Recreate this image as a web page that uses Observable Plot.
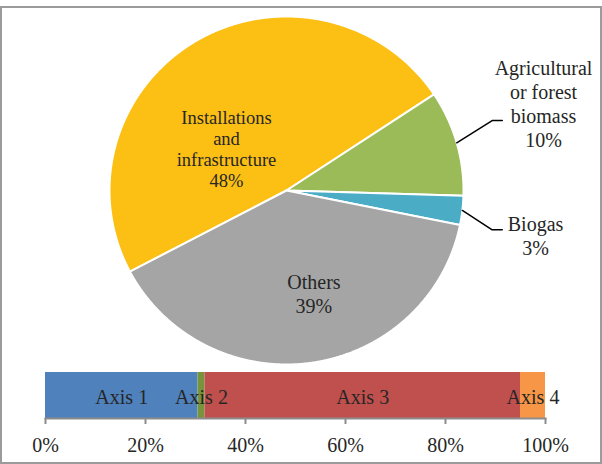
<!DOCTYPE html>
<html><head><meta charset="utf-8">
<script src="https://cdn.jsdelivr.net/npm/d3@7"></script>
<script src="https://cdn.jsdelivr.net/npm/@observablehq/plot@0.6"></script>
<style>
html,body{margin:0;padding:0;background:#fff;}
#chart{position:relative;width:602px;height:464px;overflow:hidden;font-family:"Liberation Serif","Times New Roman",serif;}
#chart svg, #chart svg text{font-family:"Liberation Serif","Times New Roman",serif !important;}
#frame{position:absolute;left:0;top:6px;width:602px;height:458px;border:2px solid #9b9b9b;box-sizing:border-box;}
#pie,#bar{position:absolute;left:0;}
#pie{top:0;}
#bar{top:360px;}
</style>
</head><body>
<div id="chart"><div id="frame"></div><div id="pie"></div><div id="bar"></div></div>
<script>
// ---- data ----
const pieCategories = ["Installations and infrastructure", "Agricultural or forest biomass", "Biogas", "Others"];
const pieValues = [48.4, 9.8, 2.7, 39.1];
const pieLabelNames = ["Installations\nand\ninfrastructure", "Agricultural\nor forest\nbiomass", "Biogas", "Others"];
const piePercents = ["48%", "10%", "3%", "39%"];
const pieColors = ["#FCBF14", "#9BBB59", "#4BACC6", "#A5A5A5"];

const barCategories = ["Axis 1", "Axis 2", "Axis 3", "Axis 4"];
const barValues = [30.5, 1.4, 63.1, 5.0];
const barColors = ["#4F81BD", "#77933C", "#C0504D", "#F79646"];
const xTicks = [0, 20, 40, 60, 80, 100];

// ---- layout (unit pie coordinates) ----
const startDeg = -117.8;
const labelLayout = {
  "Installations and infrastructure": {x: -0.339, y: 0.24, inside: true},
  "Agricultural or forest biomass": {x: 1.452, y: 0.50, elbow: [1.162, 0.402], end: 1.219},
  "Biogas": {x: 1.407, y: -0.257, elbow: [1.162, -0.226], end: 1.219},
  "Others": {x: 0.155, y: -0.591, inside: true}
};

const font = "Liberation Serif";
const txt = "#262626";

// ---- pie geometry ----
const start = startDeg * Math.PI / 180;
const arcs = d3.pie().sort(null).startAngle(start).endAngle(start + 2 * Math.PI)(pieValues);
const slicePts = [];
arcs.forEach((a, i) => {
  const cat = pieCategories[i];
  slicePts.push({cat, x: 0, y: 0});
  const n = Math.max(4, Math.ceil((a.endAngle - a.startAngle) / 0.004));
  for (let k = 0; k <= n; k++) {
    const t = a.startAngle + (a.endAngle - a.startAngle) * k / n;
    slicePts.push({cat, x: Math.sin(t), y: Math.cos(t)});
  }
  slicePts.push({cat, x: 0, y: 0});
});

const leaders = [];
const labels = [];
arcs.forEach((a, i) => {
  const cat = pieCategories[i];
  const L = labelLayout[cat];
  labels.push({cat, x: L.x, y: L.y, text: pieLabelNames[i] + "\n" + piePercents[i], inside: !!L.inside});
  if (L.elbow) {
    const m = (a.startAngle + a.endAngle) / 2;
    leaders.push({cat, x: Math.sin(m), y: Math.cos(m)});
    leaders.push({cat, x: L.elbow[0], y: L.elbow[1]});
    leaders.push({cat, x: L.end, y: L.elbow[1]});
  }
});

const cx = 286, cy = 190, rx = 177, ry = 174;
const pie = Plot.plot({
  width: 602, height: 372, margin: 0,
  style: {fontFamily: font, color: txt, background: "transparent", overflow: "visible"},
  x: {domain: [-1, 1], range: [cx - rx, cx + rx], axis: null},
  y: {domain: [-1, 1], range: [cy + ry, cy - ry], axis: null},
  color: {domain: pieCategories, range: pieColors},
  marks: [
    Plot.line(slicePts, {x: "x", y: "y", z: "cat", fill: "cat", stroke: "white", strokeWidth: 2, strokeLinejoin: "round"}),
    Plot.line(leaders, {x: "x", y: "y", z: "cat", stroke: "#000", strokeWidth: 1.5}),
    Plot.text(labels.filter(d => d.cat === pieCategories[0]), {x: "x", y: "y", text: "text", fontFamily: font, fontSize: 18.5, lineHeight: 1.14, fill: txt}),
    Plot.text(labels.filter(d => d.cat !== pieCategories[0]), {x: "x", y: "y", text: "text", fontFamily: font, fontSize: 20, lineHeight: 1.2, fill: txt})
  ]
});
document.getElementById("pie").appendChild(pie);

// ---- bar ----
const barData = barCategories.map((name, i) => ({name, value: barValues[i]}));
const bar = Plot.plot({
  width: 602, height: 104, marginTop: 12, marginBottom: 46, marginLeft: 45, marginRight: 57,
  style: {fontFamily: font, color: txt, background: "transparent", overflow: "visible"},
  x: {domain: [0, 100]},
  color: {domain: barCategories, range: barColors},
  marks: [
    Plot.barX(barData, {x: "value", fill: "name"}),
    Plot.text(barData, Plot.stackX({x: "value", text: "name", fontFamily: font, fontSize: 20, fill: txt, dy: 2})),
    Plot.frame({anchor: "bottom", stroke: "#8c8c8c", strokeWidth: 2}),
    Plot.axisX(xTicks, {tickSize: 6, tickPadding: 13, tickFormat: d => d + "%", fontFamily: font, fontSize: 20, stroke: "#8c8c8c", strokeWidth: 2, fill: txt, label: null})
  ]
});
document.getElementById("bar").appendChild(bar);
</script>
</body></html>
